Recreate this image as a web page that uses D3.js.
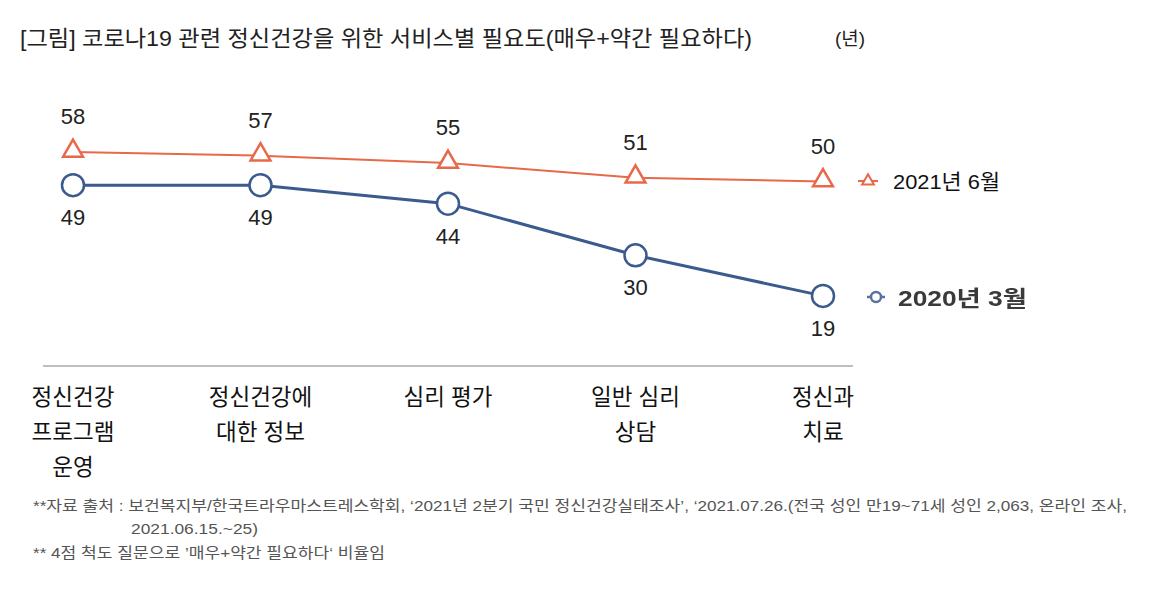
<!DOCTYPE html>
<html>
<head>
<meta charset="utf-8">
<script src="https://cdn.jsdelivr.net/npm/d3@7"></script>
<style>
  body { margin: 0; background: #fff; }
  text { font-family: "Liberation Sans", "Noto Sans CJK KR", sans-serif; }
</style>
</head>
<body>
<script>
const categories = [['정신건강', '프로그램', '운영'], ['정신건강에', '대한 정보'], ['심리 평가'], ['일반 심리', '상담'], ['정신과', '치료']];
const series2021 = [58, 57, 55, 51, 50];
const series2020 = [49, 49, 44, 30, 19];
const seriesNames = ['2021년 6월', '2020년 3월'];

const width = 1172;
const height = 592;

const svg = d3.select('body')
              .append('svg')
              .attr('width', width)
              .attr('height', height);

const orange = '#e8694a';
const blue = '#3b5b8e';

let xScale = d3.scalePoint()
               .domain(d3.range(categories.length))
               .range([73, 823]);

let yScale = d3.scaleLinear()
               .domain([0, 100])
               .range([366, -3]);

// title
svg.append('text')
   .attr('x', 20)
   .attr('y', 46)
   .attr('font-size', 22)
   .attr('fill', '#222')
   .attr('textLength', 732)
   .attr('lengthAdjust', 'spacingAndGlyphs')
   .text('[그림] 코로나19 관련 정신건강을 위한 서비스별 필요도(매우+약간 필요하다)');

svg.append('text')
   .attr('x', 835)
   .attr('y', 45)
   .attr('font-size', 18)
   .attr('fill', '#222')
   .attr('textLength', 30)
   .attr('lengthAdjust', 'spacingAndGlyphs')
   .text('(년)');

// baseline
svg.append('line')
   .attr('x1', 43)
   .attr('x2', 853)
   .attr('y1', 366)
   .attr('y2', 366)
   .attr('stroke', '#bfbfbf')
   .attr('stroke-width', 2);

// category labels
categories.forEach((lines, i) => {
    svg.append('g')
       .selectAll('text')
       .data(lines)
       .enter()
       .append('text')
       .attr('x', xScale(i))
       .attr('y', (d, j) => 405 + j * 35)
       .attr('text-anchor', 'middle')
       .attr('font-size', 22.5)
       .attr('fill', '#111')
       .text(d => d);
});

const line = d3.line()
               .x((d, i) => xScale(i))
               .y(d => yScale(d));

// 2021 series
svg.append('path')
   .datum(series2021)
   .attr('d', line)
   .attr('fill', 'none')
   .attr('stroke', orange)
   .attr('stroke-width', 2);

const tri = d3.symbol().type(d3.symbolTriangle).size(170);

svg.selectAll('.tri')
   .data(series2021)
   .enter()
   .append('path')
   .attr('class', 'tri')
   .attr('d', tri)
   .attr('transform', (d, i) => `translate(${xScale(i)}, ${yScale(d) - 1})`)
   .attr('fill', '#fff')
   .attr('stroke', orange)
   .attr('stroke-width', 2.5);

svg.selectAll('.lab21')
   .data(series2021)
   .enter()
   .append('text')
   .attr('class', 'lab21')
   .attr('x', (d, i) => xScale(i))
   .attr('y', d => yScale(d) - 28)
   .attr('text-anchor', 'middle')
   .attr('font-size', 22)
   .attr('fill', '#222')
   .text(d => d);

// 2020 series
svg.append('path')
   .datum(series2020)
   .attr('d', line)
   .attr('fill', 'none')
   .attr('stroke', blue)
   .attr('stroke-width', 3);

svg.selectAll('.dot')
   .data(series2020)
   .enter()
   .append('circle')
   .attr('class', 'dot')
   .attr('cx', (d, i) => xScale(i))
   .attr('cy', d => yScale(d))
   .attr('r', 11)
   .attr('fill', '#fff')
   .attr('stroke', blue)
   .attr('stroke-width', 2.5);

svg.selectAll('.lab20')
   .data(series2020)
   .enter()
   .append('text')
   .attr('class', 'lab20')
   .attr('x', (d, i) => xScale(i))
   .attr('y', d => yScale(d) + 40)
   .attr('text-anchor', 'middle')
   .attr('font-size', 22)
   .attr('fill', '#222')
   .text(d => d);

// legend
const lg1 = svg.append('g').attr('transform', 'translate(868, 181)');
lg1.append('line')
   .attr('x1', -10).attr('x2', 10)
   .attr('stroke', orange).attr('stroke-width', 2);
lg1.append('path')
   .attr('d', d3.symbol().type(d3.symbolTriangle).size(60))
   .attr('fill', '#fff')
   .attr('stroke', orange)
   .attr('stroke-width', 2);
lg1.append('text')
   .attr('x', 25)
   .attr('y', 8)
   .attr('font-size', 21)
   .attr('fill', '#111')
   .attr('textLength', 107)
   .attr('lengthAdjust', 'spacingAndGlyphs')
   .text(seriesNames[0]);

const lg2 = svg.append('g').attr('transform', 'translate(876, 297)');
lg2.append('line')
   .attr('x1', -9).attr('x2', 9)
   .attr('stroke', '#5873a0').attr('stroke-width', 2.5);
lg2.append('circle')
   .attr('r', 5)
   .attr('fill', '#fff')
   .attr('stroke', '#5873a0')
   .attr('stroke-width', 2.5);
lg2.append('text')
   .attr('x', 22)
   .attr('y', 9)
   .attr('font-size', 22)
   .attr('font-weight', 'bold')
   .attr('fill', '#3a3a3a')
   .attr('textLength', 129)
   .attr('lengthAdjust', 'spacingAndGlyphs')
   .attr('style', 'filter: blur(0.6px)')
   .text(seriesNames[1]);

// footnotes
const notes = [
    {x: 33, y: 511, w: 1094, t: '**자료 출처 : 보건복지부/한국트라우마스트레스학회, ‘2021년 2분기 국민 정신건강실태조사’, ‘2021.07.26.(전국 성인 만19~71세 성인 2,063, 온라인 조사,'},
    {x: 131, y: 534, w: 127, t: '2021.06.15.~25)'},
    {x: 33, y: 558, w: 352, t: '** 4점 척도 질문으로 ’매우+약간 필요하다‘ 비율임'}
];
svg.selectAll('.note')
   .data(notes)
   .enter()
   .append('text')
   .attr('class', 'note')
   .attr('x', d => d.x)
   .attr('y', d => d.y)
   .attr('font-size', 15)
   .attr('fill', '#555')
   .attr('textLength', d => d.w)
   .attr('lengthAdjust', 'spacingAndGlyphs')
   .text(d => d.t);
</script>
</body>
</html>
